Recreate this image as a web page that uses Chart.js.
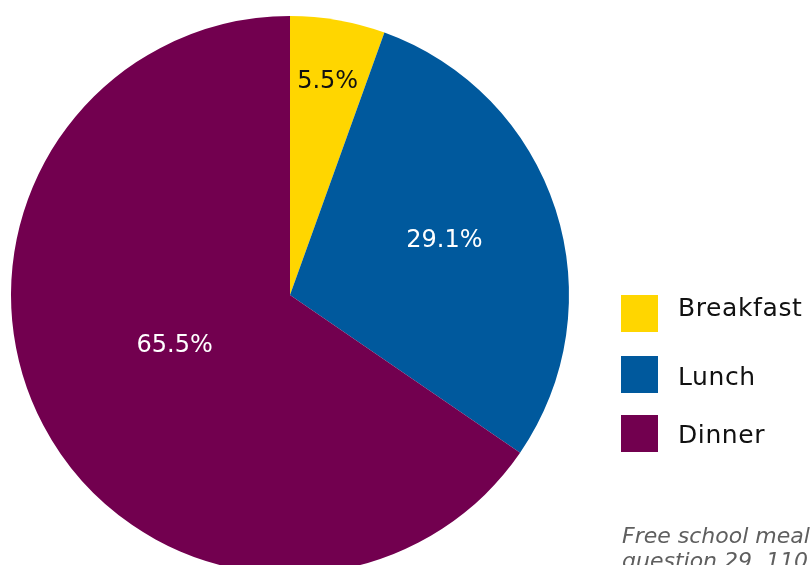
<!DOCTYPE html>
<html>
<head>
<meta charset="utf-8">
<script src="https://cdn.jsdelivr.net/npm/chart.js@4"></script>
<style>
  html, body { margin: 0; padding: 0; background: #fff; overflow: hidden; }
  #wrap { position: relative; width: 810px; height: 600px; }
</style>
</head>
<body>
<div id="wrap"><canvas id="meals"></canvas></div>
<script>
// Meals eaten: share of respondents
const categories = ['Breakfast', 'Lunch', 'Dinner'];
const shares = [5.5, 29.1, 65.5];
const valueLabels = ['5.5%', '29.1%', '65.5%'];
const sliceColors = ['#FFD600', '#00599D', '#72004F'];
const footnoteLines = ['Free school meals recipients,', 'question 29. 110 respondents'];

const FONT = '"DejaVu Sans", "Open Sans", sans-serif';

// slice labels: radial position (fraction of radius), angular nudge (deg) and text colour
const labelPlacement = [
  { r: 0.785, turn: 0, color: '#111111' },
  { r: 0.59, turn: -2.4, color: '#ffffff' },
  { r: 0.448, turn: 5.2, color: '#ffffff' }
];

const sliceLabels = {
  id: 'sliceLabels',
  afterDatasetsDraw(chart) {
    const ctx = chart.ctx;
    const meta = chart.getDatasetMeta(0);
    ctx.save();
    ctx.font = '24px ' + FONT;
    ctx.textAlign = 'center';
    ctx.textBaseline = 'alphabetic';
    meta.data.forEach((arc, i) => {
      const p = arc.getProps(['x', 'y', 'startAngle', 'endAngle', 'outerRadius'], true);
      const mid = (p.startAngle + p.endAngle) / 2 + labelPlacement[i].turn * Math.PI / 180;
      const rr = p.outerRadius * labelPlacement[i].r;
      ctx.fillStyle = labelPlacement[i].color;
      ctx.fillText(valueLabels[i], p.x + Math.cos(mid) * rr, p.y + Math.sin(mid) * rr + 9);
    });
    ctx.restore();
  }
};

// legend boxes and names on the right, plus the source note below
const sideLegend = {
  id: 'sideLegend',
  afterDraw(chart) {
    const ctx = chart.ctx;
    const boxTops = [295, 356, 415];
    const baselines = [316, 385, 443];
    ctx.save();
    categories.forEach((name, i) => {
      ctx.fillStyle = sliceColors[i];
      ctx.fillRect(621, boxTops[i], 37, 37);
      ctx.fillStyle = '#111111';
      ctx.font = '25px ' + FONT;
      ctx.letterSpacing = '0.6px';
      ctx.textAlign = 'left';
      ctx.textBaseline = 'alphabetic';
      ctx.fillText(name, 678, baselines[i]);
    });
    ctx.fillStyle = '#5f5f5f';
    ctx.font = 'italic 22px ' + FONT;
    ctx.letterSpacing = '0px';
    ctx.fillText(footnoteLines[0], 622, 543);
    ctx.fillText(footnoteLines[1], 622, 568);
    ctx.restore();
  }
};

new Chart(document.getElementById('meals'), {
  type: 'pie',
  data: {
    labels: categories,
    datasets: [{
      data: shares,
      backgroundColor: sliceColors,
      borderWidth: 0
    }]
  },
  options: {
    responsive: true,
    maintainAspectRatio: false,
    animation: false,
    layout: { padding: { left: 11, top: 16, right: 241, bottom: 26 } },
    plugins: {
      legend: { display: false },
      tooltip: { enabled: false }
    }
  },
  plugins: [sliceLabels, sideLegend]
});
</script>
</body>
</html>
